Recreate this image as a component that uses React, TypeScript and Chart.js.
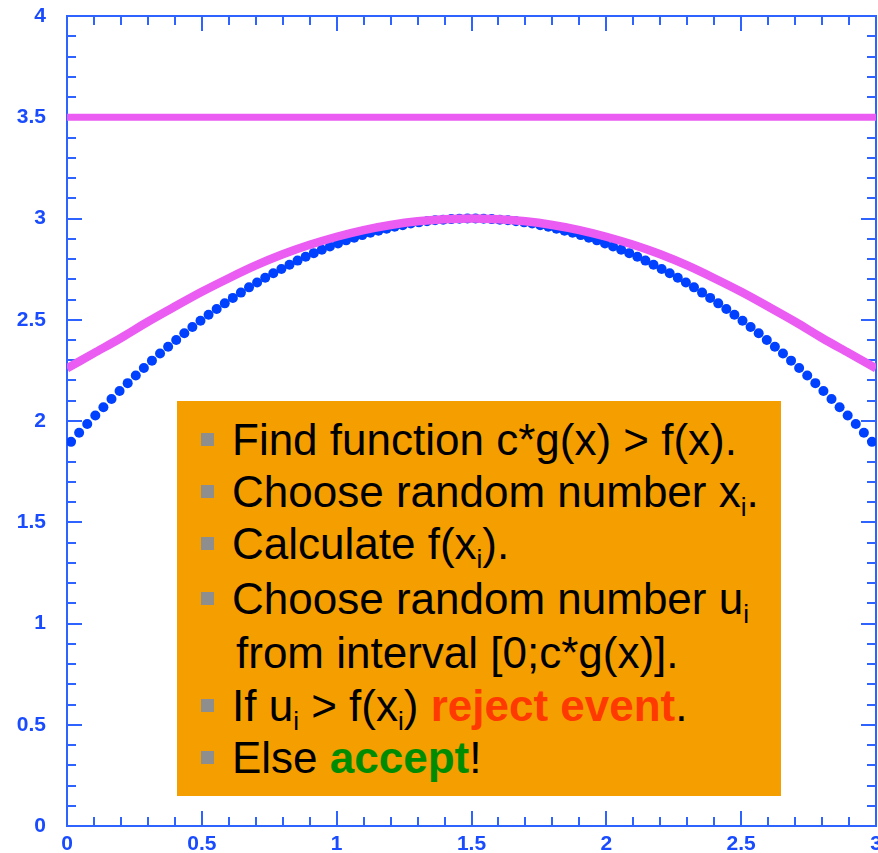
import React, { useEffect, useRef } from "react";
import { Chart, registerables } from "chart.js";

Chart.register(...registerables);

// ---- data ----
const xTickLabels = ["0", "0.5", "1", "1.5", "2", "2.5", "3"];
const yTickLabels = ["0", "0.5", "1", "1.5", "2", "2.5", "3", "3.5", "4"];

// f(x): blue points (bin centres)
const fX = [
  0.015, 0.045, 0.075, 0.105, 0.135, 0.165, 0.195, 0.225, 0.255, 0.285,
  0.315, 0.345, 0.375, 0.405, 0.435, 0.465, 0.495, 0.525, 0.555, 0.585,
  0.615, 0.645, 0.675, 0.705, 0.735, 0.765, 0.795, 0.825, 0.855, 0.885,
  0.915, 0.945, 0.975, 1.005, 1.035, 1.065, 1.095, 1.125, 1.155, 1.185,
  1.215, 1.245, 1.275, 1.305, 1.335, 1.365, 1.395, 1.425, 1.455, 1.485,
  1.515, 1.545, 1.575, 1.605, 1.635, 1.665, 1.695, 1.725, 1.755, 1.785,
  1.815, 1.845, 1.875, 1.905, 1.935, 1.965, 1.995, 2.025, 2.055, 2.085,
  2.115, 2.145, 2.175, 2.205, 2.235, 2.265, 2.295, 2.325, 2.355, 2.385,
  2.415, 2.445, 2.475, 2.505, 2.535, 2.565, 2.595, 2.625, 2.655, 2.685,
  2.715, 2.745, 2.775, 2.805, 2.835, 2.865, 2.895, 2.925, 2.955, 2.985,
];
const fY = [
  1.897, 1.942, 1.985, 2.027, 2.068, 2.109, 2.148, 2.187, 2.225, 2.262,
  2.298, 2.333, 2.367, 2.400, 2.433, 2.464, 2.495, 2.525, 2.553, 2.581,
  2.608, 2.634, 2.660, 2.684, 2.707, 2.730, 2.751, 2.772, 2.792, 2.811,
  2.829, 2.846, 2.862, 2.877, 2.892, 2.905, 2.918, 2.930, 2.940, 2.950,
  2.959, 2.967, 2.975, 2.981, 2.986, 2.991, 2.994, 2.997, 2.999, 3.000,
  3.000, 2.999, 2.997, 2.994, 2.991, 2.986, 2.981, 2.975, 2.967, 2.959,
  2.950, 2.940, 2.930, 2.918, 2.905, 2.892, 2.877, 2.862, 2.846, 2.829,
  2.811, 2.792, 2.772, 2.751, 2.730, 2.707, 2.684, 2.660, 2.634, 2.608,
  2.581, 2.553, 2.525, 2.495, 2.464, 2.433, 2.400, 2.367, 2.333, 2.298,
  2.262, 2.225, 2.187, 2.148, 2.109, 2.068, 2.027, 1.985, 1.942, 1.897,
];

// c*g(x): magenta envelope
const gX = [
  0, 0.1, 0.2, 0.3, 0.4, 0.5, 0.6, 0.7, 0.8, 0.9, 1.0, 1.1, 1.2, 1.3, 1.4, 1.5,
  1.6, 1.7, 1.8, 1.9, 2.0, 2.1, 2.2, 2.3, 2.4, 2.5, 2.6, 2.7, 2.8, 2.9, 3.0,
];
const gY = [
  2.26, 2.335, 2.41, 2.49, 2.565, 2.638, 2.705, 2.768, 2.823, 2.87, 2.91,
  2.943, 2.968, 2.986, 2.996, 3.0, 2.996, 2.986, 2.968, 2.943, 2.91, 2.87,
  2.823, 2.768, 2.705, 2.638, 2.565, 2.49, 2.41, 2.335, 2.26,
];

// constant line
const hX = [0, 3];
const hY = [3.5, 3.5];

const AXIS_COLOR = "#2f63ff";
const LABEL_COLOR = "#1a4cff";
const BLUE = "#0040ff";
const MAGENTA = "#ea5cf2";

const frameTicks = {
  id: "frameTicks",
  beforeDatasetsDraw(chart: any) {
    const { ctx, chartArea: a, scales } = chart;
    const x = scales.x;
    const y = scales.y;
    ctx.save();
    ctx.strokeStyle = AXIS_COLOR;
    ctx.lineWidth = 2;
    ctx.strokeRect(a.left, a.top, a.right - a.left, a.bottom - a.top);
    ctx.beginPath();
    for (let i = 0; i <= 30; i++) {
      const px = Math.round(x.getPixelForValue(i / 10));
      const len = i % 5 === 0 ? 15 : 9;
      ctx.moveTo(px, a.bottom);
      ctx.lineTo(px, a.bottom - len);
      ctx.moveTo(px, a.top);
      ctx.lineTo(px, a.top + len);
    }
    for (let i = 0; i <= 40; i++) {
      const py = Math.round(y.getPixelForValue(i / 10));
      const len = i % 5 === 0 ? 15 : 9;
      ctx.moveTo(a.left, py);
      ctx.lineTo(a.left + len, py);
      ctx.moveTo(a.right, py);
      ctx.lineTo(a.right - len, py);
    }
    ctx.stroke();
    ctx.restore();
  },
};

const FONT = '"Liberation Sans", Arial, Helvetica, sans-serif';

export default function App() {
  const ref = useRef<HTMLCanvasElement | null>(null);

  useEffect(() => {
    if (!ref.current) return;
    const chart = new Chart(ref.current, {
      type: "scatter",
      data: {
        datasets: [
          {
            label: "c*g(x)",
            data: gX.map((v, i) => ({ x: v, y: gY[i] })),
            showLine: true,
            borderColor: MAGENTA,
            borderWidth: 8.5,
            pointRadius: 0,
            cubicInterpolationMode: "monotone",
            order: 0,
          },
          {
            label: "const",
            data: hX.map((v, i) => ({ x: v, y: hY[i] })),
            showLine: true,
            borderColor: MAGENTA,
            borderWidth: 7,
            pointRadius: 0,
            order: 0,
          },
          {
            label: "f(x)",
            data: fX.map((v, i) => ({ x: v, y: fY[i] })),
            showLine: false,
            pointRadius: 5,
            pointBorderWidth: 0,
            pointBackgroundColor: BLUE,
            backgroundColor: BLUE,
            borderColor: BLUE,
            order: 1,
          },
        ],
      },
      options: {
        animation: false,
        responsive: false,
        devicePixelRatio: 1,
        layout: {
          padding: { top: 16, right: 2, left: 0, bottom: 0 },
          autoPadding: false,
        },
        plugins: {
          legend: { display: false },
          tooltip: { enabled: false },
        },
        scales: {
          x: {
            type: "linear",
            min: 0,
            max: 3,
            border: { display: false },
            grid: { display: false, drawTicks: false },
            afterFit: (s: any) => {
              s.height = 27;
              s.paddingLeft = 0;
              s.paddingRight = 0;
              s.paddingTop = 0;
              s.paddingBottom = 0;
            },
            ticks: {
              stepSize: 0.5,
              autoSkip: false,
              maxRotation: 0,
              padding: 6,
              color: LABEL_COLOR,
              font: { family: FONT, size: 21, weight: "bold" },
              callback: (_v: any, i: number) => xTickLabels[i],
            },
          },
          y: {
            type: "linear",
            min: 0,
            max: 4,
            border: { display: false },
            grid: { display: false, drawTicks: false },
            afterFit: (s: any) => {
              s.width = 67;
              s.paddingLeft = 0;
              s.paddingRight = 0;
              s.paddingTop = 0;
              s.paddingBottom = 0;
            },
            ticks: {
              stepSize: 0.5,
              autoSkip: false,
              padding: 21,
              color: LABEL_COLOR,
              font: { family: FONT, size: 21, weight: "bold" },
              callback: (_v: any, i: number) => yTickLabels[i],
            },
          },
        },
      } as any,
      plugins: [frameTicks],
    });
    return () => chart.destroy();
  }, []);

  const lineCenters = [439, 491, 543, 598, 652, 705, 757];
  const sub = (t: string) => (
    <span style={{ fontSize: 26, position: "relative", top: 9 }}>{t}</span>
  );
  const lines: { bullet: boolean; left: number; content: React.ReactNode }[] = [
    { bullet: true, left: 232, content: <>Find function c*g(x) &gt; f(x).</> },
    { bullet: true, left: 232, content: <>Choose random number x{sub("i")}.</> },
    { bullet: true, left: 232, content: <>Calculate f(x{sub("i")}).</> },
    { bullet: true, left: 232, content: <>Choose random number u{sub("i")}</> },
    { bullet: false, left: 236, content: <>from interval [0;c*g(x)].</> },
    {
      bullet: true,
      left: 232,
      content: (
        <>
          If u{sub("i")} &gt; f(x{sub("i")}){" "}
          <b style={{ color: "#ff3a00" }}>reject event</b>.
        </>
      ),
    },
    {
      bullet: true,
      left: 232,
      content: (
        <>
          Else <b style={{ color: "#008c00" }}>accept</b>!
        </>
      ),
    },
  ];

  return (
    <div
      style={{
        position: "fixed",
        left: 0,
        top: 0,
        width: 878,
        height: 853,
        background: "#ffffff",
        overflow: "hidden",
        fontFamily: FONT,
      }}
    >
      <canvas ref={ref} width={878} height={853} style={{ display: "block" }} />
      <div
        style={{
          position: "absolute",
          left: 177,
          top: 401,
          width: 604,
          height: 395,
          background: "#f49e00",
        }}
      />
      {lines.map((ln, i) => (
        <React.Fragment key={i}>
          {ln.bullet && (
            <div
              style={{
                position: "absolute",
                left: 201,
                top: lineCenters[i] - 6.5,
                width: 13,
                height: 13,
                background: "#8e8e8e",
              }}
            />
          )}
          <div
            style={{
              position: "absolute",
              left: ln.left,
              top: lineCenters[i] - 25.5,
              height: 52,
              lineHeight: "52px",
              fontSize: 44,
              color: "#000000",
              whiteSpace: "nowrap",
            }}
          >
            {ln.content}
          </div>
        </React.Fragment>
      ))}
    </div>
  );
}
